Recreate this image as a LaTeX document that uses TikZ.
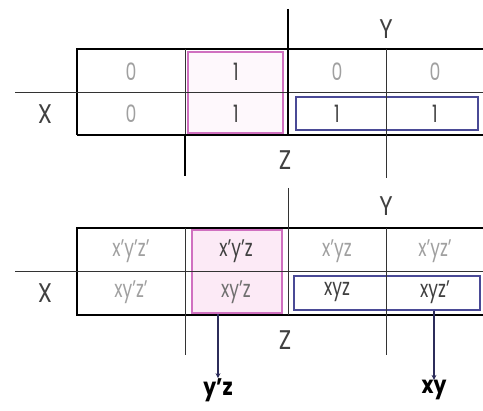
\documentclass[tikz,border=0pt]{standalone}
\usepackage{fontspec}
\setmainfont{Poppins}
\newfontfamily\cond[FakeStretch=0.72]{Poppins}
\newfontfamily\condb[FakeStretch=0.85]{Poppins}
\usetikzlibrary{arrows.meta}
\definecolor{pinkb}{HTML}{D070C0}
\definecolor{pinkf}{HTML}{FCEAF6}
\definecolor{blueb}{HTML}{4A4A96}
\definecolor{lgray}{HTML}{A0A0A0}
\definecolor{dgray}{HTML}{404040}
\tikzset{
  thin line/.style={line width=0.8pt, black!80},
  mid line/.style={line width=1.3pt, black},
  thick line/.style={line width=2.2pt, black},
  cell/.style={font=\cond\fontsize{24}{24}\selectfont, inner sep=0pt},
  axis/.style={font=\condb\fontsize{27}{27}\selectfont, text=dgray, inner sep=0pt},
  pinkbox/.style={draw=pinkb, line width=2pt, inner sep=0pt},
  bluebox/.style={draw=blueb, line width=2pt, inner sep=0pt},
  arr/.style={line width=1.6pt, blueb!60!black, -{Stealth[length=5pt,width=5pt]}},
  res/.style={font=\condb\fontsize{24}{24}\selectfont\bfseries, inner sep=0pt}
}
\begin{document}
\begin{tikzpicture}[x=1pt,y=-1pt]
\useasboundingbox (0,0) rectangle (483,411);
% ---------- top map ----------
\node[pinkbox, fill=pinkf!35, minimum width=95pt, minimum height=81pt] (pinkA) at (235.5,92.5) {};
\node[bluebox, minimum width=182pt, minimum height=33pt] (blueA) at (387,113.5) {};
\draw[mid line] (483,49) -- (77,49) -- (77,135);
\draw[thin line] (15,92) -- (483,92);
\draw[thin line] (185,49) -- (185,135);
\draw[thick line] (77,135) -- (483,135);
\draw[thick line] (288,9) -- (288,135);
\draw[thick line] (185,135) -- (185,176);
\draw[thin line] (386,49) -- (386,178);
\node[axis] (YA) at (386,29) {Y};
\node[axis] (ZA) at (285,160) {Z};
\node[axis] (XA) at (45,114) {X};
\node[cell, text=lgray] (a00) at (131,72) {0};
\node[cell, text=dgray] (a01) at (236,72) {1};
\node[cell, text=lgray] (a02) at (337,72) {0};
\node[cell, text=lgray] (a03) at (435,72) {0};
\node[cell, text=lgray] (a10) at (131,114) {0};
\node[cell, text=dgray] (a11) at (236,114) {1};
\node[cell, text=dgray] (a12) at (337,114) {1};
\node[cell, text=dgray] (a13) at (435,114) {1};
% ---------- bottom map ----------
\node[pinkbox, fill=pinkf, minimum width=90pt, minimum height=83pt] (pinkB) at (237,271.5) {};
\node[bluebox, minimum width=186pt, minimum height=34pt] (blueB) at (387,293) {};
\draw[mid line] (483,228) -- (77,228) -- (77,315) -- (483,315);
\draw[thin line] (15,271) -- (483,271);
\draw[thin line] (288,188) -- (288,315);
\draw[thin line] (185,228) -- (185,355);
\draw[thin line] (386,228) -- (386,355);
\node[axis] (YB) at (386,206) {Y};
\node[axis] (ZB) at (285,340) {Z};
\node[axis] (XB) at (45,293) {X};
\node[cell, text=lgray] (b00) at (131,251) {x’y’z’};
\node[cell, text=dgray] (b01) at (236,251) {x’y’z};
\node[cell, text=lgray] (b02) at (337,251) {x’yz};
\node[cell, text=lgray] (b03) at (435,251) {x’yz’};
\node[cell, text=lgray] (b10) at (131,292) {xy’z’};
\node[cell, text=dgray!75] (b11) at (236,292) {xy’z};
\node[cell, text=dgray] (b12) at (337,292) {xyz};
\node[cell, text=dgray] (b13) at (435,292) {xyz’};
% results
\node[res] (yz) at (218,390) {y’z};
\node[res] (xy) at (434,390) {xy};
\draw[arr] (pinkB.south -| yz) -- (yz.north);
\draw[arr] (blueB.south -| xy) -- (xy.north);
\end{tikzpicture}
\end{document}
